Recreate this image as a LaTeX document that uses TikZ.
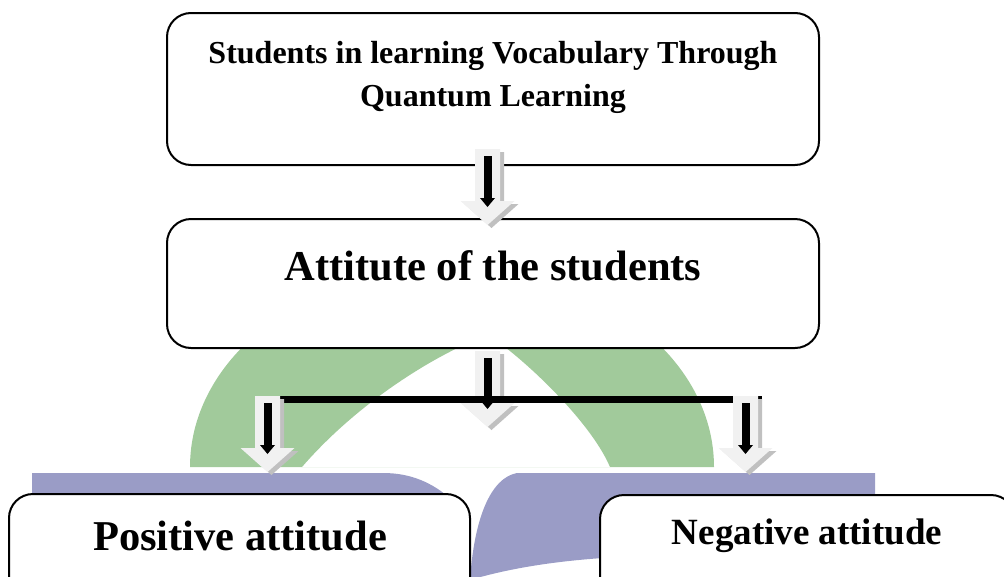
\documentclass[tikz,border=0pt]{standalone}
\usepackage{fontspec}
\setmainfont{Liberation Serif}
\usetikzlibrary{calc}
\definecolor{archgreen}{RGB}{161,202,155}
\definecolor{pagepurple}{RGB}{154,156,198}
\definecolor{arrowface}{RGB}{241,241,241}
\definecolor{arrowshade}{RGB}{192,192,192}
\begin{document}
\begin{tikzpicture}[x=1pt,y=1pt,
  box/.style={draw=black,line width=2pt,rounded corners=24pt,fill=white,inner sep=0pt},
  boxtext/.style={inner sep=0pt,align=center},
  bar/.style={line width=6.5pt},
  pics/hollowdown/.style={code={
    % soft shadow, light block arrow, black arrow inside
    \fill[arrowshade] (-8.5,-3) -- (16.5,-3) -- (16.5,-55) -- (31,-55) -- (4,-79) -- (-23,-55) -- (-8.5,-55) -- cycle;
    \fill[arrowface] (-12.5,0) -- (12.5,0) -- (12.5,-52) -- (27,-52) -- (0,-76) -- (-27,-52) -- (-12.5,-52) -- cycle;
    \fill[black] (-4,-7) rectangle (4,-50);
    \fill[black] (-7.5,-49) -- (7.5,-49) -- (0,-58) -- cycle;
  }}]
\useasboundingbox (0,0) rectangle (1004,-576);
\clip (0,0) rectangle (1004,-576);

% logo in the background: green arch over an open book
\fill[archgreen,even odd rule]
  (190,-467) arc[start angle=180,end angle=0,x radius=262,y radius=200] -- cycle
  (302,-467) .. controls (360,-400) and (440,-352) .. (488,-335)
  .. controls (520,-355) and (590,-420) .. (610,-467) -- cycle;
\fill[pagepurple] (32,-473) -- (383,-473) .. controls (410,-473) and (432,-482) .. (452,-500)
  -- (452,-580) -- (32,-580) -- cycle;
\fill[pagepurple] (517,-473) -- (875,-473) -- (875,-560) -- (620,-557)
  .. controls (560,-560) and (510,-568) .. (470,-580)
  .. controls (474,-520) and (490,-478) .. (517,-473) -- cycle;

% boxes
\node[box,minimum width=652pt,minimum height=152pt] (top) at (493,-89) {};
\node[box,minimum width=652pt,minimum height=129pt] (mid) at (493,-283.5) {};
\node[box,minimum width=461pt,minimum height=130pt] (pos) at (239.5,-559) {};
\node[box,minimum width=415pt,minimum height=130pt] (neg) at (807.5,-560) {};

% texts
\node[boxtext,font=\bfseries\fontsize{32}{43}\selectfont,anchor=north] (toptext) at (493,-41.5)
  {Students in learning Vocabulary Through\\Quantum Learning};
\node[boxtext,font=\bfseries\fontsize{42.5}{50}\selectfont,anchor=base] (midtext) at (493,-280)
  {Attitute of the students};
\node[boxtext,font=\bfseries\fontsize{42.5}{50}\selectfont,anchor=base] (postext) at (240,-550)
  {Positive attitude};
\node[boxtext,font=\bfseries\fontsize{37}{44}\selectfont,anchor=base] (negtext) at (807,-544)
  {Negative attitude};

% arrow anchors
\coordinate (a1) at ($(top.south)+(-5.5,17)$);
\coordinate (a2) at ($(mid.south)+(-5.5,-2)$);
\coordinate (a3) at ($(pos.north)+(28,97)$);
\coordinate (a4) at ($(neg.north)+(-62,98)$);
\coordinate (bl) at ($(a3)+(0,-3.5)$);
\coordinate (br) at ($(a4)+(16.5,-3.5)$);

% arrows
\pic at (a1) {hollowdown};
\pic at (a2) {hollowdown};
\draw[bar] (bl) -- (br);
\pic at (a3) {hollowdown};
\pic at (a4) {hollowdown};
\end{tikzpicture}
\end{document}
